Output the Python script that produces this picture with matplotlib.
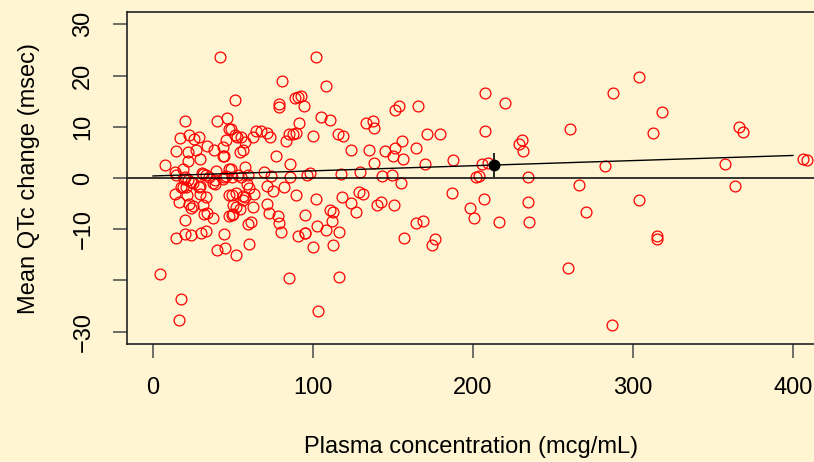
import matplotlib.pyplot as plt

plt.rcParams['font.family'] = ['Liberation Sans', 'DejaVu Sans']

# plasma concentration (mcg/mL) and mean QTc change (msec)
conc = [4.4, 17.7, 16.4, 14.2, 20.2, 23.8, 30.2, 33.3, 20.0, 37.5, 32.1, 34.0, 44.6, 39.8, 45.0,
        16.4, 22.3, 23.9, 25.2, 31.0, 13.5, 18.6, 20.8, 21.3, 25.0, 28.9, 29.6, 33.1, 38.5, 19.6,
        47.5, 47.7, 41.7, 20.0, 40.2, 46.0, 17.1, 22.5, 25.6, 28.8, 14.6, 22.1, 27.1, 33.5, 38.3,
        43.8, 43.9, 44.6, 29.4, 21.9, 7.3, 18.6, 13.5, 30.8, 33.3, 39.4, 45.4, 47.5, 45.8, 47.5,
        20.2, 35.0, 21.7, 38.9, 44.4, 17.5, 29.4, 37.7, 14.2, 23.9, 43.8, 31.0,
        49.2, 51.7, 50.2, 51.9, 54.4, 50.2, 49.2, 56.0, 57.5, 56.4, 63.1, 62.7, 71.0, 72.3, 77.9,
        78.5, 80.2, 90.4, 95.2, 59.6, 61.3, 60.2, 51.9, 85.2, 58.5, 60.0, 71.4, 74.8, 82.1, 89.2,
        51.4, 78.5, 79.0, 80.8, 88.8, 90.4, 92.3, 94.4, 49.0, 51.2, 52.3, 55.2, 57.5, 62.4, 64.4,
        67.5, 71.4, 73.1, 82.9, 85.2, 87.7, 89.4, 91.2, 54.6, 56.4, 76.9, 85.9, 57.6, 59.2, 69.4,
        53.3, 54.8, 73.5, 85.6, 49.2, 48.7,
        101.9, 108.1, 105.0, 110.6, 100.0, 98.1, 96.4, 101.7, 95.0, 110.6, 112.7, 111.7, 102.7,
        107.9, 116.4, 95.0, 100.2, 112.7, 103.0, 116.3, 115.8, 118.5, 123.8, 117.5, 129.2, 117.9,
        123.5, 126.9, 128.8, 131.4,
        132.9, 137.3, 138.3, 151.3, 153.5, 165.6, 155.4, 151.5, 149.8, 156.5, 135.2, 144.8, 138.1,
        164.6, 171.5, 179.4, 170.0, 187.7, 207.3, 220.0, 207.5, 205.4, 209.4, 228.8, 230.6, 231.0,
        142.9, 149.2, 155.0, 201.7, 203.5, 234.4, 139.8, 142.5, 150.8, 186.7, 206.9, 197.9, 200.6,
        216.3, 234.2, 235.2, 164.2, 168.5, 157.1, 174.4, 176.3,
        260.6, 266.0, 270.4, 259.6, 304.0, 287.3, 318.3, 312.7, 366.5, 369.0, 282.3, 357.3, 406.5,
        408.5, 363.5, 303.5, 314.8, 314.8, 286.7]
qtc = [-18.7, -23.6, -27.7, -11.7, -11.0, -11.2, -10.8, -10.4, -8.1, -7.9, -7.0, -6.9, -11.0, -14.0, -13.7,
       -4.6, -5.1, -5.9, -5.5, -5.3, -3.1, -1.8, -1.8, -3.4, -1.0, -1.7, -3.1, -3.8, -1.2, -0.2,
       -3.4, -7.4, 23.6, 11.1, 11.2, 11.7, 7.9, 8.4, 7.6, 8.0, 5.3, 5.1, 5.5, 6.2, 5.5,
       6.0, 4.3, 4.2, 3.8, 3.3, 2.5, 1.7, 1.1, 0.9, 0.6, 1.4, 0.4, 1.8, 7.5, 9.5,
       0.25, 0.25, -0.4, -0.4, 0.1, -1.7, -1.5, -1.0, 0.6, -0.8, -0.1, 0.8,
       -3.3, -3.0, -5.3, -5.6, -6.1, -7.1, -7.3, -3.6, -3.8, -4.2, -3.2, -5.7, -5.1, -6.8, -7.4,
       -8.8, -10.6, -11.3, -10.8, -9.0, -8.6, -12.9, -15.1, -19.6, -1.2, -1.9, -1.6, -2.5, -1.7, -3.3,
       15.2, 14.5, 13.8, 18.9, 15.7, 15.8, 16.1, 14.0, 9.5, 8.4, 8.0, 8.0, 7.0, 8.0, 9.2,
       9.2, 8.8, 8.1, 7.2, 8.6, 8.6, 8.8, 10.8, 5.0, 5.4, 4.2, 2.7, 2.2, 0.6, 1.2,
       0.5, 0.25, 0.45, 0.25, 0.25, 1.75,
       23.6, 17.9, 12.0, 11.3, 8.2, 0.9, 0.5, -4.0, -7.2, -6.2, -6.7, -8.3, -9.3,
       -10.1, -10.5, -10.8, -13.4, -13.1, -26.0, -19.3, 8.5, 8.2, 5.4, 0.8, 1.1, -3.7,
       -4.8, -6.6, -2.8, -3.1,
       10.8, 11.1, 9.7, 13.3, 14.0, 14.1, 7.3, 5.9, 4.2, 3.8, 5.5, 5.3, 2.9,
       5.9, 8.6, 8.6, 2.7, 3.6, 16.6, 14.7, 9.2, 2.7, 2.9, 6.6, 7.4, 5.3,
       0.45, 0.6, -1.0, 0.1, 0.45, 0.1, -5.3, -4.6, -5.3, -2.9, -4.0, -5.8, -7.9,
       -8.6, -4.7, -8.5, -8.8, -8.4, -11.7, -13.0, -11.9,
       9.5, -1.4, -6.6, -17.6, 19.7, 16.6, 12.9, 8.8, 10.0, 9.0, 2.4, 2.8, 3.8,
       3.5, -1.6, -4.2, -11.3, -11.95, -28.7]

# fitted line ends and the mean point with its interval
fit_x = [0, 400]
fit_y = [0.4, 4.4]
mean_x = 213.3
mean_y = 2.5
mean_err = 2.4

bg = '#FFF5D2'
fig = plt.figure(figsize=(8.14, 4.62), dpi=100, facecolor=bg)
ax = fig.add_axes([0.156, 0.2554, 0.8457, 0.7186], facecolor=bg)

ax.plot(conc, qtc, 'o', mfc='none', mec='red', ms=7.8, mew=0.9, ls='none')
ax.axhline(0, color='black', lw=1.1)
ax.plot(fit_x, fit_y, color='black', lw=1.0)
ax.errorbar([mean_x], [mean_y], yerr=[mean_err], fmt='o', color='black', ms=7.5, elinewidth=1.2, capsize=0)

ax.set_xlim(-16.25, 414)
ax.set_ylim(-32.4, 32.4)
ax.set_xticks([0, 100, 200, 300, 400])
ax.set_yticks([-30, -20, -10, 0, 10, 20, 30])
ax.set_yticklabels(['\u221230', '', '\u221210', '0', '10', '20', '30'], rotation=90, va='center')
ax.tick_params(direction='out', length=10, width=1.2, color='#555555', labelsize=17, pad=13.5)
for s in ax.spines.values():
    s.set_linewidth(1.2)
    s.set_color('#222222')

ax.set_xlabel('Plasma concentration (mcg/mL)', fontsize=17, labelpad=27)
ax.set_ylabel('Mean QTc change (msec)', fontsize=17, labelpad=23)

fig.savefig('out.png', dpi=100, facecolor=bg)
